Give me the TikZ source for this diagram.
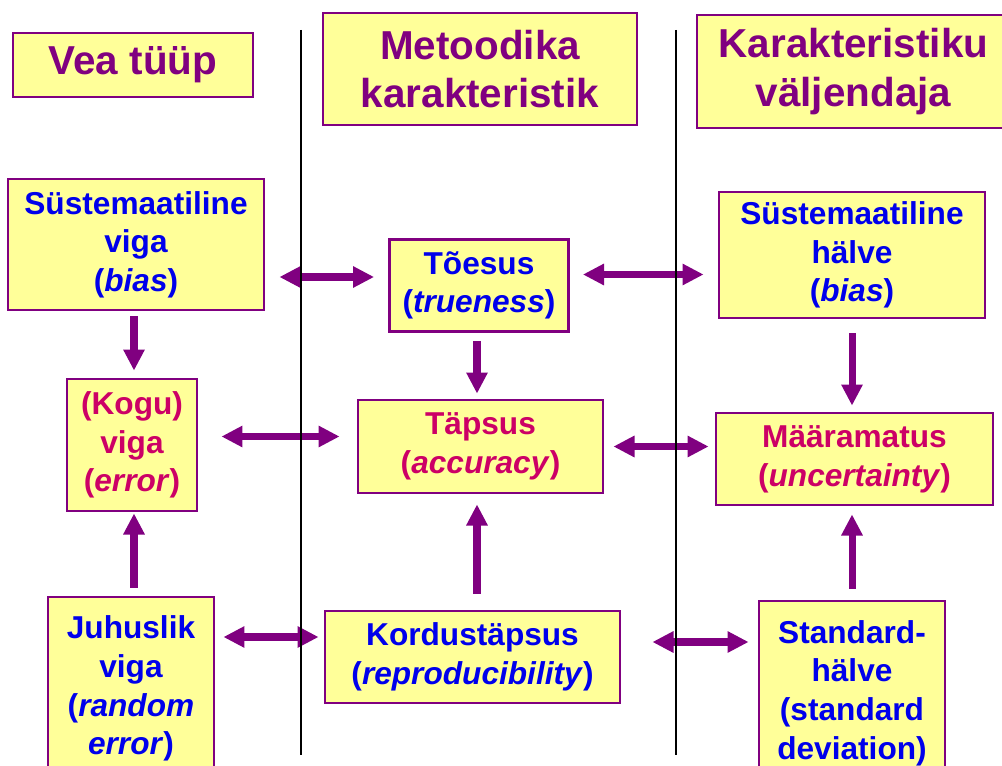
\documentclass[tikz,border=0pt]{standalone}
\usepackage{fontspec}
\setsansfont{Liberation Sans}
\usetikzlibrary{arrows.meta}
\definecolor{vpurple}{RGB}{128,0,128}
\definecolor{vyellow}{RGB}{255,255,153}
\definecolor{vblue}{RGB}{0,0,235}
\definecolor{vred}{RGB}{204,0,102}

\begin{document}
\begin{tikzpicture}[font=\sffamily\bfseries,box/.style={draw=vpurple,line width=1.6pt,fill=vyellow,align=center,inner sep=0pt},head/.style={box,text=vpurple,font=\sffamily\bfseries\fontsize{23}{27.5}\selectfont},item/.style={box,font=\sffamily\bfseries\fontsize{18}{22}\selectfont},link/.style={vpurple,line width=4pt,-{Triangle[length=12pt,width=11.5pt]}},both/.style={link,{Triangle[length=12pt,width=11.5pt]}-{Triangle[length=12pt,width=11.5pt]}}]
\clip (0,0) rectangle (20.04,-15.3);
\fill[white] (0,0) rectangle (20.04,-15.3);
% column headings
\node[head,minimum width=4.8cm,minimum height=1.28cm] (vea) at (2.66,-1.30) {\raisebox{-3pt}{Vea tüüp}};
\node[head,minimum width=6.28cm,minimum height=2.24cm] (met) at (9.60,-1.38) {Metoodika\\karakteristik};
\node[head,minimum width=6.26cm,minimum height=2.26cm] (kar) at (17.07,-1.43) {Karakteristiku\\väljendaja};
% systematic row
\node[item,text=vblue,minimum width=5.12cm,minimum height=2.62cm] (sv) at (2.72,-4.89) {Süstemaatiline\\viga\\(\textit{bias})};
\node[item,text=vblue,minimum width=3.58cm,minimum height=1.84cm] (toe) at (9.58,-5.71) {Tõesus\\(\textit{trueness})};
\node[item,text=vblue,minimum width=5.32cm,minimum height=2.52cm] (sh) at (17.04,-5.10) {Süstemaatiline\\hälve\\(\textit{bias})};
% total row
\node[item,text=vred,minimum width=2.60cm,minimum height=2.64cm] (kogu) at (2.64,-8.90) {(Kogu)\\viga\\(\textit{error})};
\node[item,text=vred,minimum width=4.90cm,minimum height=1.86cm] (tap) at (9.61,-8.93) {Täpsus\\(\textit{accuracy})};
\node[item,text=vred,minimum width=5.54cm,minimum height=1.84cm] (maar) at (17.09,-9.18) {Määramatus\\(\textit{uncertainty})};
% random row
\node[item,text=vblue,minimum width=3.32cm,minimum height=3.66cm] (juh) at (2.62,-13.77) {Juhuslik\\viga\\(\textit{random}\\\textit{error})};
\node[item,text=vblue,minimum width=5.90cm,minimum height=1.84cm] (kor) at (9.45,-13.14) {Kordustäpsus\\(\textit{reproducibility})};
\node[item,text=vblue,minimum width=3.72cm,minimum height=3.68cm] (std) at (17.04,-13.86) {Standard-\\hälve\\(standard\\deviation)};
% horizontal links
\draw[both,shorten <=0.28cm,shorten >=0.28cm] ([yshift=-0.65cm]sv.east) -- ([yshift=-0.65cm]sv.east -| toe.west);
\draw[both,shorten <=0.26cm,shorten >=0.28cm] ([yshift=0.22cm]toe.east) -- ([yshift=0.22cm]toe.east -| sh.west);
\draw[both,shorten <=0.46cm,shorten >=0.34cm] ([yshift=0.17cm]kogu.east) -- ([yshift=0.17cm]kogu.east -| tap.west);
\draw[both,shorten <=0.18cm,shorten >=0.12cm] (tap.east) -- (tap.east -| maar.west);
\draw[both,shorten <=0.16cm,shorten >=0.10cm] ([yshift=1.03cm]juh.east) -- ([yshift=1.03cm]juh.east -| kor.west);
\draw[both,shorten <=0.62cm,shorten >=0.18cm] ([yshift=0.30cm]kor.east) -- ([yshift=0.30cm]kor.east -| std.west);
% vertical links
\draw[link,shorten <=0.10cm,shorten >=0.14cm] ([xshift=-0.04cm]sv.south) -- ([xshift=-0.04cm]sv.south |- kogu.north);
\draw[link,shorten <=0.16cm,shorten >=0.02cm] ([xshift=0.06cm]juh.north) -- ([xshift=0.06cm]juh.north |- kogu.south);
\draw[link,shorten <=0.16cm,shorten >=0.10cm] ([xshift=-0.04cm]toe.south) -- ([xshift=-0.04cm]toe.south |- tap.north);
\draw[link,shorten <=0.32cm,shorten >=0.20cm] ([xshift=0.09cm]kor.north) -- ([xshift=0.09cm]kor.north |- tap.south);
\draw[link,shorten <=0.28cm,shorten >=0.12cm] (sh.south) -- (sh.south |- maar.north);
\draw[link,shorten <=0.22cm,shorten >=0.16cm] (std.north) -- (std.north |- maar.south);
% column separators
\draw[line width=1pt] (6.02,-0.6) -- (6.02,-15.1);
\draw[line width=1pt] (13.52,-0.6) -- (13.52,-15.1);
\end{tikzpicture}
\end{document}
